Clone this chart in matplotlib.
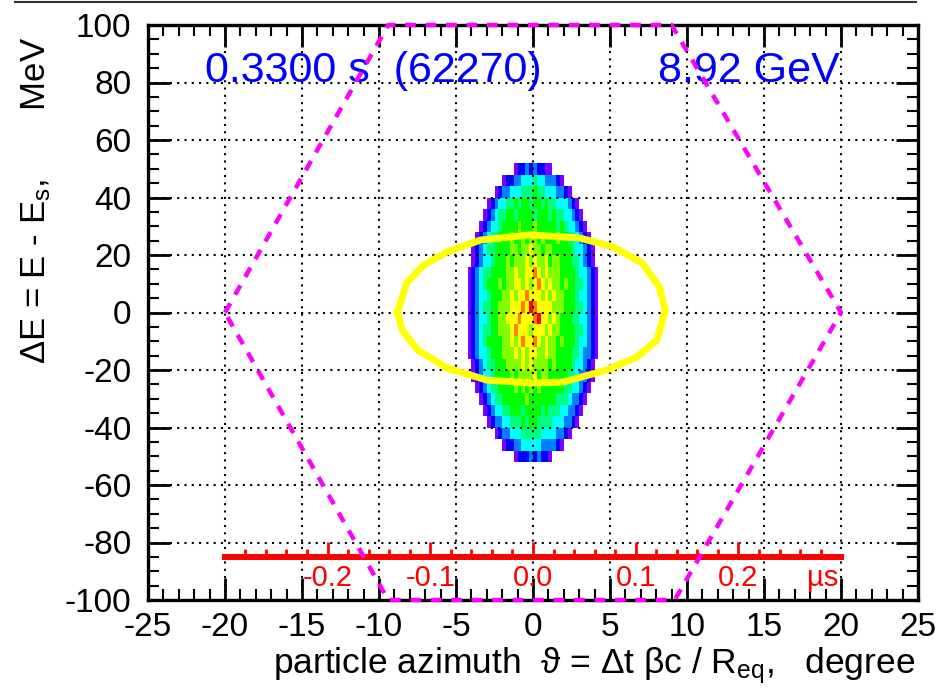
import numpy as np
import matplotlib.pyplot as plt
from matplotlib.colors import ListedColormap, BoundaryNorm
from matplotlib.lines import Line2D

plt.rcParams['font.family'] = ['Liberation Sans', 'DejaVu Sans']
plt.rcParams['mathtext.fontset'] = 'custom'
plt.rcParams['mathtext.rm'] = 'Liberation Sans'
plt.rcParams['mathtext.it'] = 'Liberation Sans:italic'
plt.rcParams['axes.unicode_minus'] = False

# separatrix (magenta), degree / MeV
sep_x = [-20, -9.4, 9.0, 20, 9.2, -9.4, -20]
sep_y = [0, 100, 100, 0, -100, -100, 0]

# matched contour (yellow)
ell_x = [-8.8, -8.2, -7.1, -5.6, -3.4, -0.2, 3.05, 5.2, 7.1, 8.2, 8.6,
         8.05, 6.75, 4.8, 1.95, -0.2, -3.0, -5.6, -7.5, -8.5, -8.8]
ell_y = [0, 10.3, 16.5, 21.0, 25.2, 27.0, 25.9, 22.8, 17.2, 8.9, 0.9,
         -9.6, -15.5, -20, -24.2, -24.5, -23.5, -19.3, -13, -6.1, 0]

# time scale in microseconds drawn at dE = -85 MeV
t_major = [-0.2, -0.1, 0.0, 0.1, 0.2]
t_labels = ['-0.2', '-0.1', '0.0', '0.1', '0.2']
deg_per_us = 66.7
t_axis_y = -85

# particle histogram, colour level per bin (0 = empty), rows top -> bottom
# x bins 0.25 degree from -4.5 to 4.5, y bins 4 MeV from 52 to -52
hist_rows = [
    "1 2 2 3 2 3 2 2 1 1",
    "1 2 2 3 3 4 4 4 5 4 4 3 3 3 2 1",
    "1 2 3 3 4 4 4 5 5 5 6 5 5 4 4 4 3 3 2 1",
    "1 2 3 4 4 5 5 6 5 6 6 5 6 6 5 6 5 5 4 4 4 3 2 1",
    "1 2 3 4 5 5 6 6 5 6 6 6 6 5 6 6 6 5 6 5 5 4 4 3 2 1",
    "1 2 3 4 4 5 6 6 6 6 7 6 6 6 7 6 6 6 6 6 5 6 5 4 4 3 2 1",
    "1 2 3 4 5 5 6 6 6 7 6 6 7 6 7 7 6 7 6 6 6 7 6 6 5 5 4 3 2 1",
    "1 2 3 4 5 5 6 6 6 6 7 7 6 7 7 8 7 7 6 7 7 6 6 6 6 6 5 4 4 3 2 1",
    "1 2 3 4 4 5 6 6 6 7 6 7 7 7 8 7 8 7 7 8 6 7 7 6 6 6 5 5 4 3 2 1",
    "1 2 3 4 5 5 6 6 6 6 7 7 8 7 7 8 8 9 8 7 8 7 7 7 6 6 6 6 5 4 4 3 2 1",
    "1 2 3 4 5 6 6 6 7 6 7 7 8 8 7 8 7 8 9 8 7 8 7 7 6 7 6 6 5 5 4 3 2 1",
    "1 2 3 4 4 5 6 6 6 7 7 8 7 8 8 9 8 8 8 7 8 7 8 7 7 6 6 6 5 4 4 3 2 1",
    "1 2 3 4 5 5 6 6 7 7 7 8 8 8 9 8 a 9 8 8 8 8 7 7 7 6 6 6 5 5 4 3 2 1",
    "1 2 3 4 4 5 6 6 7 7 8 8 8 9 8 8 8 9 a 8 8 7 8 7 6 6 6 5 5 4 4 3 2 1",
    "1 2 3 4 5 5 6 6 7 7 7 8 9 8 8 8 7 8 8 8 7 8 7 7 6 6 6 6 5 5 4 3 2 1",
    "1 2 3 4 5 6 6 6 6 7 7 8 7 8 9 8 8 9 8 7 8 7 7 6 7 6 6 6 5 4 4 3 2 1",
    "1 2 3 4 4 5 6 6 6 7 7 7 8 7 8 7 8 8 7 7 8 7 7 6 6 6 6 5 5 4 3 3 2 1",
    "1 2 3 4 5 5 6 6 6 7 7 7 7 8 7 8 7 7 7 7 6 7 6 6 6 6 5 4 4 3 2 1",
    "1 2 3 4 4 5 6 6 6 6 7 6 7 7 7 7 8 6 7 7 6 6 6 6 6 5 5 4 3 3 2 1",
    "1 2 3 4 5 5 6 6 6 6 7 6 7 6 7 6 7 6 6 6 6 6 6 5 5 4 4 3 2 1",
    "1 2 3 4 5 5 6 6 6 6 6 6 7 6 6 6 6 6 6 6 5 5 5 4 3 3 2 1",
    "1 2 3 4 4 5 5 6 6 6 5 6 6 6 6 5 6 5 5 5 4 4 3 3 2 1",
    "1 2 3 3 4 4 5 5 5 6 5 6 6 5 5 5 5 4 4 4 3 3 2 1",
    "1 2 3 3 4 4 4 5 5 5 5 5 4 4 4 4 3 3 2 1",
    "1 2 2 3 3 4 4 4 4 4 3 3 3 3 2 1",
    "1 2 2 2 3 2 3 2 2 1",
]
palette = ['#8000ff', '#0000ff', '#0080ff', '#00ffff', '#00ff80',
           '#00ff00', '#80ff00', '#ffff00', '#ff8000', '#ff0000']

grid = np.array([[int(c, 16) for c in r.replace(' ', '').center(36, '0')]
                 for r in hist_rows[::-1]])
grid = np.ma.masked_equal(grid, 0)
xe = np.linspace(-4.5, 4.5, 37)
ye = np.linspace(-52, 52, 27)

fig = plt.figure(figsize=(9.39, 6.96), dpi=100)
ax = fig.add_axes([148/939, 96/696, 770/939, 575/696])

ax.pcolormesh(xe, ye, grid, cmap=ListedColormap(palette),
              norm=BoundaryNorm(np.arange(0.5, 11.5), 10), zorder=1)

ax.plot(ell_x, ell_y, color='#ffff00', lw=5, zorder=3, solid_joinstyle='miter')
ax.plot(sep_x, sep_y, color='#ff00ff', lw=3.2, linestyle=(0, (2.4, 2.2)),
        zorder=10, clip_on=False)

# time axis
ax.plot([-0.3*deg_per_us, 0.3*deg_per_us], [t_axis_y, t_axis_y], color='red', lw=4.3, zorder=3)
t_minor = [t for t in np.round(np.arange(-0.28, 0.29, 0.02), 2) if abs(t*10 - round(t*10)) > 1e-6]
ax.vlines(np.array(t_minor)*deg_per_us, t_axis_y, t_axis_y + 2.8, color='red', lw=2, zorder=3)
ax.vlines(np.array(t_major)*deg_per_us, t_axis_y, t_axis_y + 5.2, color='red', lw=2, zorder=3)
for t, lab in zip(t_major, t_labels):
    ax.text(t*deg_per_us, -92.3, lab, color='red', fontsize=21, ha='center', va='center')
ax.text(18.8, -92.3, 'µs', color='red', fontsize=21, ha='center', va='center')

ax.text(-21.3, 80.2, '0.3300 s  (62270)', color='#0000ff', fontsize=31, va='baseline')
ax.text(19.9, 80.2, '8.92 GeV', color='#0000ff', fontsize=31, va='baseline', ha='right')

ax.set_xlim(-25, 25)
ax.set_ylim(-100, 100)
ax.set_xticks(range(-25, 26, 5))
ax.set_xticks(range(-25, 26, 1), minor=True)
ax.set_yticks(range(-100, 101, 20))
ax.set_yticks(range(-100, 101, 5), minor=True)
ax.tick_params(which='both', direction='in', top=True, right=True, labelsize=24)
ax.tick_params(which='major', length=16, width=2)
ax.tick_params(which='minor', length=8, width=1.5)
ax.tick_params(axis='x', pad=9)
ax.tick_params(axis='y', pad=12)
for s in ax.spines.values():
    s.set_linewidth(2.4)
ax.grid(True, which='major', color='k', linestyle=(0, (1, 2.5)), linewidth=1.5, zorder=4)
ax.set_axisbelow(False)

fig.text(915/939, 1 - 673/696, r'particle azimuth  ϑ = Δt βc / R$_{\mathrm{eq}}$,   degree',
         fontsize=25.5, ha='right', va='baseline')
fig.text(36/939, 1 - 200/696, r'ΔE = E - E$_{\mathrm{s}}$,       MeV',
         fontsize=25, ha='center', va='center', rotation=90)

fig.add_artist(Line2D([15/939, 916/939], [1 - 2/696, 1 - 2/696], color='#333333', lw=1.5))

fig.savefig('out.png', dpi=100)
